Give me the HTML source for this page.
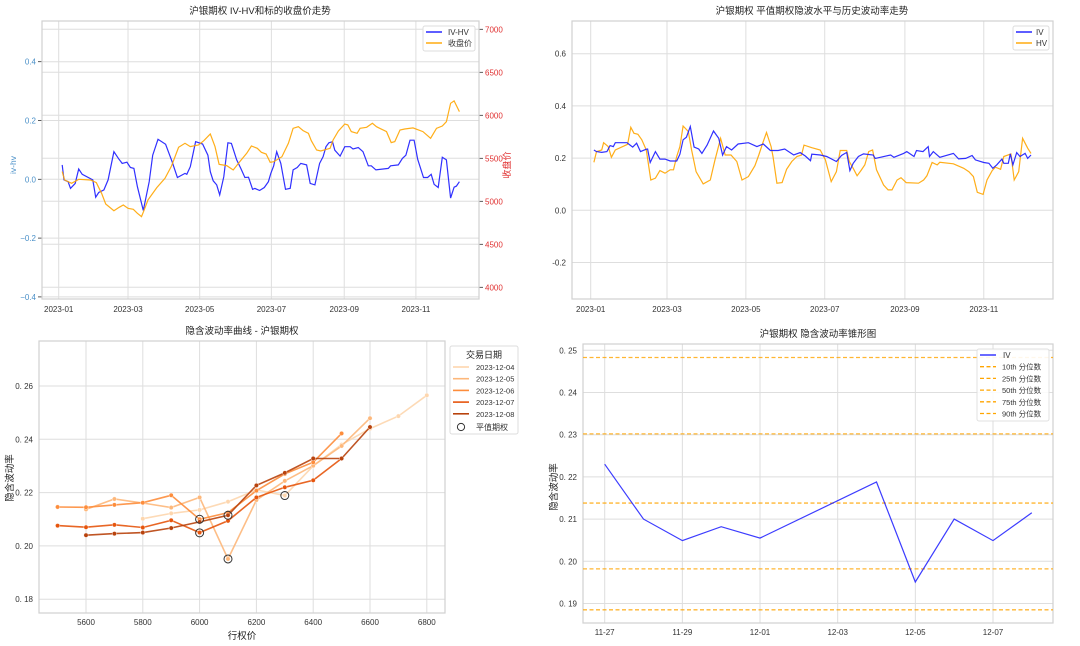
<!DOCTYPE html>
<html><head><meta charset="utf-8">
<style>
html,body{margin:0;padding:0;background:#fff;}
svg{display:block;font-family:"Liberation Sans","Noto Sans CJK SC",sans-serif;}
</style></head>
<body>
<svg id="chart" width="1080" height="646" viewBox="0 0 1080 646" xmlns="http://www.w3.org/2000/svg"></svg>
<script>
// ---------- Panel 1: IV-HV and close price (day-of-year 2023) ----------
const ivhvDays = [3,4.5,8,10,14,17,20,29,31.5,34,38.5,42,47,51,54,58,61,64,67,72,77,80,84.5,91,96.5,101,107.5,109,112,116.5,122.5,127,129,131.5,134.5,137,140.5,144,147,151.5,155,158.5,161.5,165,167,171,175,178.5,180.5,183,185.5,189,193,197,199.5,203,206,211,214,218,222,225,227.5,230,233,235,239.5,243.5,248,250.5,255,259,263.5,266,270,280.5,282.5,289,292.5,295.5,299,302.5,305.5,308,310.5,314,317,319.5,323,326.5,330,333.5,336.5,338.5,341];
const ivhvValues = [0.049,-0.002,-0.008,-0.031,-0.014,0.035,0.017,-0.002,-0.061,-0.045,-0.036,-0.002,0.094,0.070,0.054,0.058,0.040,0.037,-0.025,-0.106,-0.008,0.082,0.136,0.119,0.060,0.006,0.020,0.017,0.043,0.128,0.120,0.082,0.026,-0.005,-0.019,-0.053,0.009,0.124,0.122,0.066,0.037,0.006,0.007,-0.034,-0.031,-0.038,-0.028,-0.008,0.020,0.046,0.094,0.054,-0.034,-0.031,0.032,0.040,0.054,0.049,-0.014,-0.019,0.054,0.077,0.111,0.124,0.128,0.099,0.079,0.111,0.111,0.103,0.108,0.094,0.046,0.046,0.032,0.037,0.046,0.049,0.071,0.082,0.133,0.133,0.068,0.037,0.006,0.006,0.017,-0.017,-0.028,0.075,0.066,-0.064,-0.027,-0.023,-0.008];
const closeDays = [3,5,11,17,27,32,36.5,40,47,51.5,55,59,63.5,67,70.5,72.5,76,83.5,90.5,96,102,107.5,112,119,123.5,129,133,136.5,143,148.5,154,160,164,169,172.5,176.5,180,183,190,195.5,199.5,204,208,212.5,215,219.5,223,231,233.5,238,243.5,246,249,254,256.5,262,267,270.5,279,283,286,290.5,294.5,301.5,310,316.5,321.5,326.5,330,333.5,336.5,341];
const closeValues = [5345,5248,5209,5256,5248,5217,5093,4969,4891,4930,4957,4919,4907,4860,4822,4891,5016,5159,5267,5411,5628,5674,5636,5655,5705,5783,5636,5430,5415,5364,5461,5558,5643,5616,5570,5550,5453,5461,5519,5674,5849,5868,5822,5791,5705,5597,5585,5616,5713,5818,5899,5888,5810,5791,5849,5860,5907,5868,5810,5682,5694,5829,5841,5853,5810,5733,5849,5876,5926,6140,6167,6043];
const p1LeftTicks = [0.4,0.2,0.0,-0.2,-0.4];
const p1LeftLabels = ["0.4","0.2","0.0","\u22120.2","\u22120.4"];
const p1RightTicks = [7000,6500,6000,5500,5000,4500,4000];
const dateTickDays = [0,59,120,181,243,304];
const dateTickLabels = ["2023-01","2023-03","2023-05","2023-07","2023-09","2023-11"];

// ---------- Panel 2: IV and HV ----------
const ivDays = [2.5,4.5,8.5,12.5,15,17.5,19,28,30.5,32.5,35.5,38.5,43,44,46,50,53.5,57.5,61.5,66.5,69,71.5,74,77,80,83.5,86,90,95,99,102,105,109,114,122,128.5,133.5,139,145,150,157,162,166,170,171,177.5,182.5,190,194,198,200.5,203,207,211,218.5,220,224,232,234.5,242,244.5,250,252,257,261,262,265,270,280.5,284.5,290,295,297.5,304,308,311,314,318,319.5,323,324.5,326.5,329.5,332,336,338,340.5];
const ivValues = [0.231,0.225,0.222,0.225,0.248,0.244,0.259,0.259,0.250,0.242,0.257,0.225,0.234,0.235,0.183,0.225,0.196,0.196,0.189,0.189,0.215,0.270,0.280,0.321,0.242,0.235,0.218,0.250,0.304,0.276,0.212,0.244,0.231,0.254,0.259,0.244,0.254,0.229,0.229,0.235,0.212,0.221,0.208,0.190,0.215,0.212,0.206,0.187,0.210,0.222,0.152,0.180,0.206,0.216,0.212,0.199,0.203,0.212,0.203,0.218,0.225,0.206,0.229,0.225,0.244,0.206,0.225,0.203,0.218,0.197,0.199,0.210,0.193,0.183,0.180,0.161,0.174,0.196,0.180,0.180,0.216,0.174,0.221,0.206,0.218,0.199,0.212];
const hvDays = [2.5,4.5,8.5,10,13.5,16,19,28.5,31,33.5,36.5,39.5,43,46.5,50,53.5,57.5,61.5,64,66.5,69,71.5,75.5,78,81.5,87,92.5,96,100.5,104,108.5,113,117,122,127,130,133,136,139.5,141,144,148,151.5,155.5,159.5,163,165,171,177.5,181.5,186,190,193,198,200,203,206,209,212,215,218,221,226.5,230,233,237,240,244,253.5,257.5,260,264,268,270,280.5,288.5,292.5,296,299,303.5,306.5,310.5,313,317,319.5,325,327.5,331,334,338,340.5];
const hvValues = [0.184,0.225,0.231,0.259,0.244,0.203,0.231,0.253,0.318,0.295,0.291,0.270,0.231,0.116,0.123,0.152,0.142,0.155,0.155,0.206,0.244,0.323,0.302,0.231,0.148,0.101,0.116,0.190,0.276,0.212,0.212,0.187,0.116,0.129,0.171,0.212,0.257,0.298,0.244,0.206,0.104,0.106,0.157,0.187,0.206,0.212,0.250,0.240,0.231,0.193,0.110,0.148,0.229,0.229,0.187,0.161,0.132,0.152,0.174,0.225,0.231,0.155,0.097,0.078,0.078,0.116,0.125,0.106,0.104,0.116,0.132,0.183,0.174,0.184,0.178,0.161,0.148,0.129,0.069,0.061,0.116,0.152,0.165,0.157,0.206,0.216,0.116,0.148,0.276,0.238,0.218];
const p2Ticks = [0.6,0.4,0.2,0.0,-0.2];
const p2Labels = ["0.6","0.4","0.2","0.0","-0.2"];

// ---------- Panel 3: smile ----------
const smileDates = ["2023-12-04","2023-12-05","2023-12-06","2023-12-07","2023-12-08"];
const smileStrikes0 = [5800,5900,6000,6100,6200,6300,6400,6500,6600,6700,6800];
const smileIV0 = [0.2102,0.2122,0.2135,0.2166,0.2210,0.2189,0.2300,0.2380,0.2440,0.2487,0.2565];
const smileStrikes1 = [5600,5700,5800,5900,6000,6100,6200,6300,6400,6500,6600];
const smileIV1 = [0.2137,0.2176,0.2161,0.2144,0.2182,0.1951,0.2172,0.2244,0.2301,0.2375,0.2479];
const smileStrikes2 = [5500,5600,5700,5800,5900,6000,6100,6200,6300,6400,6500];
const smileIV2 = [0.2146,0.2145,0.2154,0.2162,0.2190,0.2100,0.2125,0.2207,0.2270,0.2314,0.2422];
const smileStrikes3 = [5500,5600,5700,5800,5900,6000,6100,6200,6300,6400,6500];
const smileIV3 = [0.2076,0.2070,0.2079,0.2069,0.2096,0.2050,0.2094,0.2182,0.2220,0.2246,0.2328];
const smileStrikes4 = [5600,5700,5800,5900,6000,6100,6200,6300,6400,6500,6600];
const smileIV4 = [0.2040,0.2046,0.2050,0.2067,0.2090,0.2115,0.2227,0.2274,0.2328,0.2328,0.2446];
const atmStrikes = [6300,6100,6000,6000,6100];
const atmIV = [0.2189,0.1951,0.2100,0.2049,0.2115];
const p3YTicks = [0.26,0.24,0.22,0.20,0.18];
const p3XTicks = [5600,5800,6000,6200,6400,6600,6800];

// ---------- Panel 4: cone ----------
const coneDays = [0,1,2,3,4,7,8,9,10,11];
const coneIV = [0.2230,0.2100,0.2049,0.2082,0.2055,0.2188,0.1951,0.2100,0.2049,0.2115];
const coneQuantiles = [0.2483,0.2302,0.2138,0.1982,0.1885];
const coneQLabels = ["10th 分位数","25th 分位数","50th 分位数","75th 分位数","90th 分位数"];
const p4YTicks = [0.25,0.24,0.23,0.22,0.21,0.20,0.19];
const p4XTickDays = [0,2,4,6,8,10];
const p4XTickLabels = ["11-27","11-29","12-01","12-03","12-05","12-07"];

const NS = "http://www.w3.org/2000/svg";
const svg = document.getElementById("chart");
function mk(tag, attrs, parent, text){
  const e = document.createElementNS(NS, tag);
  for (const k in attrs) e.setAttribute(k, attrs[k]);
  if (text !== undefined) e.textContent = text;
  (parent || svg).appendChild(e);
  return e;
}
function grp(name){
  const g = mk("g", {});
  
  
  return g;
}
function pathFrom(xs, ys, fx, fy){
  return xs.map((v,i)=>(i?"L":"M")+fx(v).toFixed(1)+","+fy(ys[i]).toFixed(1)).join("");
}
function box(g, x0,y0,x1,y1){
  const r = mk("rect",{x:x0,y:y0,width:x1-x0,height:y1-y0,fill:"none",stroke:"#d0d0d0","stroke-width":1.2},g);
  
  
}
function title(g, x, y, t){
  const e = mk("text",{x:x,y:y,"font-size":9.5,"text-anchor":"middle",fill:"#222"},g,t);
  
  
}

// ===== Panel 1 =====
(function(){
  const g = grp("iv-hv-price-panel");
  const X0=42,X1=479,Y0=21,Y1=299;
  const fx = d => 58.7 + d*1.175;
  const fyL = v => 179.3 - v*294;
  const fyR = v => 29.3 + (7000-v)/500*43;
  dateTickDays.forEach((d,i)=>{
    mk("line",{x1:fx(d),x2:fx(d),y1:Y0,y2:Y1,stroke:"#dedede","stroke-width":1},g);
    const t = mk("text",{x:fx(d),y:Y1+13,"font-size":8,"text-anchor":"middle",fill:"#333"},g,dateTickLabels[i]);
    
    
  });
  p1LeftTicks.forEach((v,i)=>{
    mk("line",{x1:X0,x2:X1,y1:fyL(v),y2:fyL(v),stroke:"#dedede","stroke-width":1},g);
    mk("line",{x1:X0-4,x2:X0,y1:fyL(v),y2:fyL(v),stroke:"#333","stroke-width":0.8},g);
    const t = mk("text",{x:X0-6,y:fyL(v)+3,"font-size":8,"text-anchor":"end",fill:"#4a90c8"},g,p1LeftLabels[i]);
    
    
  });
  p1RightTicks.forEach(v=>{
    mk("line",{x1:X0,x2:X1,y1:fyR(v),y2:fyR(v),stroke:"#dedede","stroke-width":1},g);
    mk("line",{x1:X1,x2:X1+4,y1:fyR(v),y2:fyR(v),stroke:"#333","stroke-width":0.8},g);
    const t = mk("text",{x:X1+6,y:fyR(v)+3,"font-size":8,fill:"#e03030"},g,String(v));
    
    
  });
  box(g,X0,Y0,X1,Y1);
  const l1 = mk("path",{d:pathFrom(ivhvDays,ivhvValues,fx,fyL),fill:"none",stroke:"#1a1aff","stroke-width":1.2,opacity:0.9},g);
  
  
  const l2 = mk("path",{d:pathFrom(closeDays,closeValues,fx,fyR),fill:"none",stroke:"#ffa500","stroke-width":1.2,opacity:0.9},g);
  
  
  title(g,260,14,"沪银期权 IV-HV和标的收盘价走势");
  const yl = mk("text",{x:0,y:0,"font-size":8.5,"text-anchor":"middle",fill:"#4a90c8",transform:"translate(16,165) rotate(-90)"},g,"iv-hv");
  
  
  const yr = mk("text",{x:0,y:0,"font-size":9,"text-anchor":"middle",fill:"#e03030",transform:"translate(510,165) rotate(-90)"},g,"收盘价");
  
  
  const lg = grp("legend");
  g.appendChild(lg);
  mk("rect",{x:423,y:26,width:52,height:25,fill:"#fff",stroke:"#ddd",rx:2},lg);
  mk("line",{x1:426,x2:442,y1:32,y2:32,stroke:"#1a1aff","stroke-width":1.4},lg);
  const e1=mk("text",{x:448,y:35,"font-size":8,fill:"#333"},lg,"IV-HV");
  
  
  mk("line",{x1:426,x2:442,y1:43,y2:43,stroke:"#ffa500","stroke-width":1.4},lg);
  const e2=mk("text",{x:448,y:46,"font-size":8,fill:"#333"},lg,"收盘价");
  
  
})();

// ===== Panel 2 =====
(function(){
  const g = grp("iv-vs-hv-panel");
  const X0=572,X1=1053,Y0=21,Y1=299;
  const fx = d => 590.7 + d*1.293;
  const fy = v => 210.3 - v*261;
  dateTickDays.forEach((d,i)=>{
    mk("line",{x1:fx(d),x2:fx(d),y1:Y0,y2:Y1,stroke:"#dedede","stroke-width":1},g);
    const t=mk("text",{x:fx(d),y:Y1+13,"font-size":8,"text-anchor":"middle",fill:"#333"},g,dateTickLabels[i]);
    
    
  });
  p2Ticks.forEach((v,i)=>{
    mk("line",{x1:X0,x2:X1,y1:fy(v),y2:fy(v),stroke:"#dedede","stroke-width":1},g);
    const t=mk("text",{x:X0-6,y:fy(v)+3,"font-size":8,"text-anchor":"end",fill:"#333"},g,p2Labels[i]);
    
    
  });
  box(g,X0,Y0,X1,Y1);
  const l2=mk("path",{d:pathFrom(hvDays,hvValues,fx,fy),fill:"none",stroke:"#ffa500","stroke-width":1.2,opacity:0.9},g);
  
  
  const l1=mk("path",{d:pathFrom(ivDays,ivValues,fx,fy),fill:"none",stroke:"#1a1aff","stroke-width":1.2,opacity:0.9},g);
  
  
  title(g,812,14,"沪银期权 平值期权隐波水平与历史波动率走势");
  const lg = grp("legend");
  g.appendChild(lg);
  mk("rect",{x:1013,y:26,width:36,height:24,fill:"#fff",stroke:"#ddd",rx:2},lg);
  mk("line",{x1:1016,x2:1032,y1:32,y2:32,stroke:"#1a1aff","stroke-width":1.4},lg);
  const a=mk("text",{x:1036,y:35,"font-size":8,fill:"#333"},lg,"IV");
  
  
  mk("line",{x1:1016,x2:1032,y1:43,y2:43,stroke:"#ffa500","stroke-width":1.4},lg);
  const b=mk("text",{x:1036,y:46,"font-size":8,fill:"#333"},lg,"HV");
  
  
})();

// ===== Panel 3 =====
(function(){
  const g = grp("iv-smile-panel");
  const X0=39,X1=445,Y0=341,Y1=613;
  const fx = k => 86 + (k-5600)*0.284;
  const fy = v => 386 + (0.26-v)/0.02*53.3;
  p3XTicks.forEach(k=>{
    mk("line",{x1:fx(k),x2:fx(k),y1:Y0,y2:Y1,stroke:"#dedede","stroke-width":1},g);
    const t=mk("text",{x:fx(k),y:Y1+12,"font-size":8,"text-anchor":"middle",fill:"#333"},g,String(k));
    
    
  });
  p3YTicks.forEach(v=>{
    mk("line",{x1:X0,x2:X1,y1:fy(v),y2:fy(v),stroke:"#dedede","stroke-width":1},g);
    const t=mk("text",{x:X0-6,y:fy(v)+3,"font-size":8,"text-anchor":"end",fill:"#333"},g,v.toFixed(2).replace("0.","0. "));
    
    
  });
  box(g,X0,Y0,X1,Y1);
  const colors = ["#fdd6ae","#fdb77a","#fd8d3c","#e6550d","#b8420c"];
  const strikes = [smileStrikes0,smileStrikes1,smileStrikes2,smileStrikes3,smileStrikes4];
  const ivs = [smileIV0,smileIV1,smileIV2,smileIV3,smileIV4];
  strikes.forEach((ks,si)=>{
    const sg = grp("smile-series-"+smileDates[si]);
    g.appendChild(sg);
    mk("path",{d:pathFrom(ks,ivs[si],fx,fy),fill:"none",stroke:colors[si],"stroke-width":1.6,opacity:0.9},sg);
    ks.forEach((k,j)=>{
      const c=mk("circle",{cx:fx(k),cy:fy(ivs[si][j]),r:2.2,fill:colors[si],stroke:"#fff","stroke-width":0.4},sg);
      
      
    });
  });
  atmStrikes.forEach((k,i)=>{
    const c=mk("circle",{cx:fx(k),cy:fy(atmIV[i]),r:4,fill:"none",stroke:"#333","stroke-width":1},g);
    
    
  });
  title(g,242,334,"隐含波动率曲线 - 沪银期权");
  const xl=mk("text",{x:242,y:639,"font-size":9.5,"text-anchor":"middle",fill:"#222"},g,"行权价");
  
  
  const yl=mk("text",{x:0,y:0,"font-size":9.5,"text-anchor":"middle",fill:"#222",transform:"translate(13,478) rotate(-90)"},g,"隐含波动率");
  
  
  const lg = grp("legend");
  g.appendChild(lg);
  mk("rect",{x:450,y:346,width:68,height:88,fill:"#fff",stroke:"#ddd",rx:2},lg);
  mk("text",{x:484,y:358,"font-size":9,"text-anchor":"middle",fill:"#222"},lg,"交易日期");
  smileDates.forEach((d,i)=>{
    const y=367+i*11.7;
    mk("line",{x1:453,x2:469,y1:y,y2:y,stroke:colors[i],"stroke-width":1.6},lg);
    const t=mk("text",{x:476,y:y+3,"font-size":7.5,fill:"#333"},lg,d);
    
    
  });
  mk("circle",{cx:461,cy:427,r:3.6,fill:"none",stroke:"#333","stroke-width":1},lg);
  const t=mk("text",{x:476,y:430,"font-size":8,fill:"#333"},lg,"平值期权");
  
  
})();

// ===== Panel 4 =====
(function(){
  const g = grp("iv-cone-panel");
  const X0=583,X1=1053,Y0=344,Y1=623;
  const fx = d => 604.7 + d*38.83;
  const fy = v => 350.3 + (0.25-v)/0.01*42.2;
  p4XTickDays.forEach((d,i)=>{
    mk("line",{x1:fx(d),x2:fx(d),y1:Y0,y2:Y1,stroke:"#dedede","stroke-width":1},g);
    const t=mk("text",{x:fx(d),y:Y1+12,"font-size":8,"text-anchor":"middle",fill:"#333"},g,p4XTickLabels[i]);
    
    
  });
  p4YTicks.forEach(v=>{
    mk("line",{x1:X0,x2:X1,y1:fy(v),y2:fy(v),stroke:"#dedede","stroke-width":1},g);
    const t=mk("text",{x:X0-6,y:fy(v)+3,"font-size":8,"text-anchor":"end",fill:"#333"},g,v.toFixed(2).replace("0.","0. "));
    
    
  });
  box(g,X0,Y0,X1,Y1);
  coneQuantiles.forEach(q=>{
    const l=mk("line",{x1:X0,x2:X1,y1:fy(q),y2:fy(q),stroke:"#ffa500","stroke-width":1.3,"stroke-dasharray":"4,2.5",opacity:0.8},g);
    
    
  });
  const l=mk("path",{d:pathFrom(coneDays,coneIV,fx,fy),fill:"none",stroke:"#1a1aff","stroke-width":1.2,opacity:0.85},g);
  
  
  title(g,818,337,"沪银期权 隐含波动率锥形图");
  const yl=mk("text",{x:0,y:0,"font-size":9.5,"text-anchor":"middle",fill:"#222",transform:"translate(557,487) rotate(-90)"},g,"隐含波动率");
  
  
  const lg = grp("legend");
  g.appendChild(lg);
  mk("rect",{x:977,y:349,width:72,height:72,fill:"#fff",stroke:"#ddd",rx:2,opacity:0.9},lg);
  mk("line",{x1:980,x2:996,y1:355,y2:355,stroke:"#1a1aff","stroke-width":1.3},lg);
  const ti=mk("text",{x:1003,y:358,"font-size":8,fill:"#333"},lg,"IV");
  
  
  coneQLabels.forEach((s,i)=>{
    const y=366.7+i*11.7;
    mk("line",{x1:980,x2:996,y1:y,y2:y,stroke:"#ffa500","stroke-width":1.3,"stroke-dasharray":"4,2.5"},lg);
    const t=mk("text",{x:1002,y:y+3,"font-size":7.5,fill:"#333"},lg,s);
    
    
  });
})();
</script>
</body></html>
